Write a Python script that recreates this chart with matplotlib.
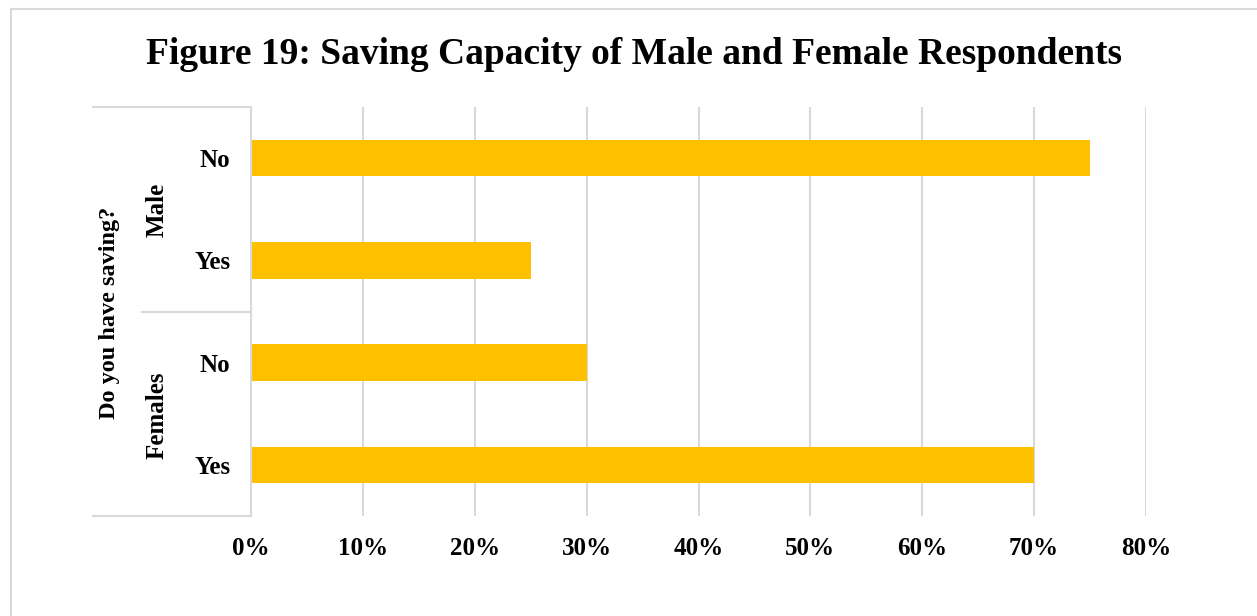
import matplotlib.pyplot as plt
from matplotlib.lines import Line2D
from matplotlib.ticker import PercentFormatter

# data (top to bottom as drawn)
groups = ['Male', 'Females']
answers = ['No', 'Yes', 'No', 'Yes']
shares = [0.75, 0.25, 0.30, 0.70]
x_ticks = [0, 0.1, 0.2, 0.3, 0.4, 0.5, 0.6, 0.7, 0.8]

plt.rcParams['font.family'] = ['Liberation Serif', 'DejaVu Serif']
plt.rcParams['font.weight'] = 'bold'

grey = '#D9D9D9'
W, H = 1257, 616
fig = plt.figure(figsize=(W / 100, H / 100), dpi=100)

# chart frame (only left and top edges are visible in the crop)
fig.add_artist(Line2D([11 / W, 11 / W], [0, 1 - 9 / H], color=grey, lw=1.5))
fig.add_artist(Line2D([11 / W, 1], [1 - 9 / H, 1 - 9 / H], color=grey, lw=1.5))

left, right, top, bottom = 251, 1146, 107, 516
ax = fig.add_axes([left / W, 1 - bottom / H, (right - left) / W, (bottom - top) / H])

pos = list(range(len(shares)))[::-1]
ax.barh(pos, shares, height=0.355, color='#FFC000', zorder=2)
ax.set_ylim(-0.5, len(shares) - 0.5)
ax.set_xlim(0, 0.8)
ax.set_xticks(x_ticks)
ax.xaxis.set_major_formatter(PercentFormatter(1.0, decimals=0))
ax.tick_params(axis='x', length=0, pad=15, labelsize=18)
ax.set_yticks(pos)
ax.set_yticklabels(answers, fontsize=18)
ax.tick_params(axis='y', length=0, pad=15)
ax.grid(axis='x', color=grey, lw=1.5, zorder=0)
for s in ['top', 'right', 'bottom']:
    ax.spines[s].set_visible(False)
ax.spines['left'].set_color(grey)
ax.spines['left'].set_linewidth(1.5)

# multi-level category axis lines
fig.add_artist(Line2D([93 / W, left / W], [1 - top / H] * 2, color=grey, lw=1.5))
fig.add_artist(Line2D([142 / W, left / W], [1 - 312 / H] * 2, color=grey, lw=1.5))
fig.add_artist(Line2D([93 / W, left / W], [1 - bottom / H] * 2, color=grey, lw=1.5))

fig.text(157 / W, 1 - 210 / H, groups[0], rotation=90, ha='center', va='center', fontsize=18)
fig.text(157 / W, 1 - 415 / H, groups[1], rotation=90, ha='center', va='center', fontsize=18)
fig.text(110 / W, 1 - 313 / H, 'Do you have saving?', rotation=90, ha='center', va='center', fontsize=17.5)

fig.text(634 / W, 1 - 54 / H, 'Figure 19: Saving Capacity of Male and Female Respondents',
         ha='center', va='center', fontsize=27)

fig.savefig('out.png', dpi=100)
